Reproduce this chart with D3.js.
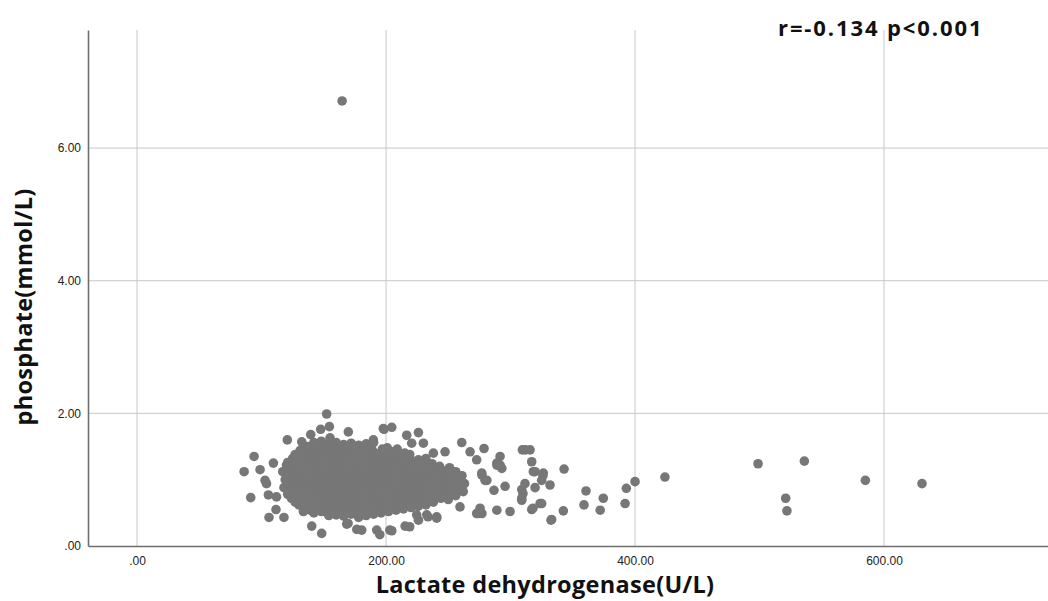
<!DOCTYPE html>
<html>
<head>
<meta charset="utf-8">
<script src="https://cdn.jsdelivr.net/npm/d3@7"></script>
<style>
  body { margin: 0; background: #fff; }
  svg { display: block; }
</style>
</head>
<body>
<svg id="chart" width="1048" height="601"></svg>
<script>
// Lactate dehydrogenase (U/L) vs phosphate (mmol/L)
const xTicks = [0, 200, 400, 600];
const yTicks = [0, 2, 4, 6];
const statText = 'r=-0.134 p<0.001';
const xTitle = 'Lactate dehydrogenase(U/L)';
const yTitle = 'phosphate(mmol/L)';

// dense core of the cloud
const corePoints = [
  [118,0.88],[119,1.0],[117,1.12],[120,1.22],
  [124,0.72],[123,0.84],[125,0.96],[124,1.08],[123,1.2],[125,1.32],
  [130,0.62],[131,0.74],[129,0.86],[130,0.98],[131,1.1],[129,1.22],[130,1.34],[131,1.44],
  [136,0.56],[135,0.68],[137,0.8],[136,0.92],[135,1.04],[137,1.16],[136,1.28],[135,1.4],[137,1.5],
  [142,0.5],[143,0.62],[141,0.74],[142,0.86],[143,0.98],[141,1.1],[142,1.22],[143,1.34],[141,1.46],[142,1.56],
  [148,0.52],[147,0.64],[149,0.76],[148,0.88],[147,1.0],[149,1.12],[148,1.24],[147,1.36],[149,1.48],[148,1.58],
  [154,0.46],[155,0.58],[153,0.7],[154,0.82],[155,0.94],[153,1.06],[154,1.18],[155,1.3],[153,1.42],[154,1.54],[155,1.63],
  [160,0.47],[159,0.6],[161,0.72],[160,0.84],[159,0.96],[161,1.08],[160,1.2],[159,1.32],[161,1.44],[160,1.56],
  [166,0.45],[167,0.57],[165,0.69],[166,0.81],[167,0.93],[165,1.05],[166,1.17],[167,1.29],[165,1.41],[166,1.53],
  [172,0.48],[171,0.6],[173,0.72],[172,0.84],[171,0.96],[173,1.08],[172,1.2],[171,1.32],[173,1.44],[172,1.55],
  [178,0.43],[179,0.55],[177,0.67],[178,0.79],[179,0.91],[177,1.03],[178,1.15],[179,1.27],[177,1.39],[178,1.52],
  [184,0.46],[183,0.58],[185,0.7],[184,0.82],[183,0.94],[185,1.06],[184,1.18],[183,1.3],[185,1.42],[184,1.54],
  [190,0.48],[191,0.6],[189,0.72],[190,0.84],[191,0.96],[189,1.08],[190,1.2],[191,1.32],[189,1.44],[190,1.56],
  [196,0.5],[195,0.62],[197,0.74],[196,0.86],[195,0.98],[197,1.1],[196,1.22],[195,1.34],[197,1.46],
  [202,0.52],[203,0.64],[201,0.76],[202,0.88],[203,1.0],[201,1.12],[202,1.24],[203,1.36],[201,1.48],
  [208,0.54],[207,0.66],[209,0.78],[208,0.9],[207,1.02],[209,1.14],[208,1.26],[207,1.38],[209,1.46],
  [214,0.56],[215,0.68],[213,0.8],[214,0.92],[215,1.04],[213,1.16],[214,1.28],[215,1.4],
  [220,0.58],[219,0.7],[221,0.82],[220,0.94],[219,1.06],[221,1.18],[220,1.3],[219,1.38],
  [226,0.6],[227,0.72],[225,0.84],[226,0.96],[227,1.08],[225,1.2],[226,1.3],
  [232,0.62],[231,0.74],[233,0.86],[232,0.98],[231,1.1],[233,1.22],[232,1.32],
  [238,0.66],[239,0.78],[237,0.9],[238,1.02],[239,1.14],[237,1.24],
  [244,0.72],[243,0.84],[245,0.96],[244,1.08],[243,1.2],
  [250,0.7],[251,0.82],[249,0.94],[250,1.06],[251,1.18],
  [256,0.76],[255,0.88],[257,1.0],[256,1.12],
  [262,0.82],[263,0.94],[261,1.06]
];

// more core points sitting between the ones above
const coreFill = [
  [121,0.78],[121,0.9],[121,1.02],[121,1.14],[121,1.26],
  [127,0.66],[127,0.78],[127,0.9],[127,1.02],[127,1.14],[127,1.26],[127,1.38],
  [133,0.6],[133,0.72],[133,0.84],[133,0.96],[133,1.08],[133,1.2],[133,1.32],[133,1.44],
  [139,0.54],[139,0.66],[139,0.78],[139,0.9],[139,1.02],[139,1.14],[139,1.26],[139,1.38],[139,1.5],
  [145,0.56],[145,0.68],[145,0.8],[145,0.92],[145,1.04],[145,1.16],[145,1.28],[145,1.4],[145,1.52],
  [151,0.52],[151,0.64],[151,0.76],[151,0.88],[151,1.0],[151,1.12],[151,1.24],[151,1.36],[151,1.48],
  [157,0.52],[157,0.64],[157,0.76],[157,0.88],[157,1.0],[157,1.12],[157,1.24],[157,1.36],[157,1.5],
  [163,0.5],[163,0.62],[163,0.74],[163,0.86],[163,0.98],[163,1.1],[163,1.22],[163,1.34],[163,1.46],
  [169,0.52],[169,0.64],[169,0.76],[169,0.88],[169,1.0],[169,1.12],[169,1.24],[169,1.36],[169,1.48],
  [175,0.5],[175,0.62],[175,0.74],[175,0.86],[175,0.98],[175,1.1],[175,1.22],[175,1.34],[175,1.46],
  [181,0.5],[181,0.62],[181,0.74],[181,0.86],[181,0.98],[181,1.1],[181,1.22],[181,1.34],[181,1.46],
  [187,0.54],[187,0.66],[187,0.78],[187,0.9],[187,1.02],[187,1.14],[187,1.26],[187,1.38],[187,1.5],
  [193,0.55],[193,0.67],[193,0.79],[193,0.91],[193,1.03],[193,1.15],[193,1.27],[193,1.39],
  [199,0.57],[199,0.69],[199,0.81],[199,0.93],[199,1.05],[199,1.17],[199,1.29],[199,1.41],
  [205,0.59],[205,0.71],[205,0.83],[205,0.95],[205,1.07],[205,1.19],[205,1.31],[205,1.42],
  [211,0.61],[211,0.73],[211,0.85],[211,0.97],[211,1.09],[211,1.21],[211,1.33],
  [217,0.63],[217,0.75],[217,0.87],[217,0.99],[217,1.11],[217,1.23],[217,1.34],
  [223,0.66],[223,0.78],[223,0.9],[223,1.02],[223,1.14],[223,1.25],
  [229,0.68],[229,0.8],[229,0.92],[229,1.04],[229,1.16],[229,1.27],
  [235,0.7],[235,0.82],[235,0.94],[235,1.06],[235,1.18],
  [241,0.78],[241,0.9],[241,1.02],[241,1.14],
  [247,0.77],[247,0.89],[247,1.01],[247,1.13],
  [253,0.82],[253,0.94],[253,1.06],
  [259,0.88],[259,1.0]
];

// edge and scattered points
const edgePoints = [
  [164.7,6.71],
  [152.3,1.99],[154.5,1.80],[147.5,1.76],[169.7,1.72],[139.5,1.68],[132.3,1.57],[120.7,1.60],
  [94,1.35],[86,1.12],[98.8,1.15],[102.8,0.99],[104,0.94],[109.5,1.25],[91.3,0.73],[105.5,0.77],
  [112,0.74],[111.6,0.55],[106,0.43],[118,0.43],[133.6,0.52],[140.3,0.30],[148.3,0.19],[168.4,0.33],
  [176.5,0.25],[169.5,0.34],[180.5,0.24],[192.5,0.24],[195,0.17],[203,0.24],[204.6,0.23],[215.3,0.30],
  [219,0.29],[226,0.39],[189.5,0.62],[233.7,0.44],[240.7,0.44],[232.7,0.47],[224.6,0.47],[240.7,0.42],
  [189.8,1.60],[198.4,1.76],[204.6,1.79],[197.8,1.77],[216.6,1.67],[226,1.71],[220.6,1.55],[230,1.55],
  [238,1.40],[247.4,1.42],[260.8,1.56],[267.5,1.42],[278.7,1.47],[272.8,1.30],[289,1.22],[281,0.99],
  [259.4,0.59],[274,0.49],[289,0.54],[277,0.49],[275.5,0.57],[272.8,0.49],[279.5,0.99],[277,1.07],
  [276.9,1.10],[291.6,1.35],[289,1.25],[293,1.17],[291.6,1.22],[286.7,0.84],[295.6,0.90],[299.6,0.52],
  [309.5,1.45],[312,1.45],[315.7,1.45],[317,1.27],[318.3,1.12],[319.7,1.12],[326.3,1.10],[325,0.99],
  [326,1.06],[331.7,0.92],[319.7,0.88],[311.6,0.94],[309,0.85],[310,0.79],[309,0.69],[309,0.72],
  [317,0.55],[318,0.57],[323.7,0.64],[325,0.64],[333,0.40],[332.5,0.39],[342.4,0.53],[343,1.16],
  [360.6,0.83],[359,0.62],[372,0.54],[374.5,0.72],[392,0.64],[393,0.87],[400,0.97],[424,1.04],
  [498.8,1.24],[536,1.28],[521,0.72],[522,0.53],[585,0.99],[630.5,0.94]
];

const allPoints = corePoints.concat(coreFill, edgePoints);

const svg = d3.select('#chart');
const plot = { left: 88, right: 1048, top: 30, bottom: 546 };

const x = d3.scaleLinear().domain([-39.4, 731.7]).range([plot.left, plot.right]);
const y = d3.scaleLinear().domain([0, 7.78]).range([plot.bottom, plot.top]);

// grid
svg.append('g')
  .selectAll('line')
  .data(xTicks)
  .join('line')
  .attr('x1', d => x(d)).attr('x2', d => x(d))
  .attr('y1', plot.top).attr('y2', plot.bottom)
  .attr('stroke', '#c8c8c8').attr('stroke-width', 1);

svg.append('g')
  .selectAll('line')
  .data(yTicks.filter(d => d > 0))
  .join('line')
  .attr('x1', plot.left).attr('x2', plot.right)
  .attr('y1', d => y(d)).attr('y2', d => y(d))
  .attr('stroke', '#c8c8c8').attr('stroke-width', 1);

// axes
const fmt = d => d === 0 ? '.00' : d3.format('.2f')(d);

const xAxis = svg.append('g')
  .attr('transform', `translate(0,${plot.bottom})`)
  .call(d3.axisBottom(x).tickValues(xTicks).tickFormat(fmt).tickSize(0).tickPadding(10));
const yAxis = svg.append('g')
  .attr('transform', `translate(${plot.left},0)`)
  .call(d3.axisLeft(y).tickValues(yTicks).tickFormat(fmt).tickSize(0).tickPadding(7));

[xAxis, yAxis].forEach(g => {
  g.select('.domain').attr('stroke', '#6e6e6e').attr('stroke-width', 1.6);
  g.selectAll('text')
    .attr('font-family', '"Liberation Sans", Arial, sans-serif')
    .attr('font-size', 12)
    .attr('fill', '#222');
});

// points
svg.append('g')
  .selectAll('circle')
  .data(allPoints)
  .join('circle')
  .attr('cx', d => x(d[0]))
  .attr('cy', d => y(d[1]))
  .attr('r', 4.8)
  .attr('fill', '#777777');

// titles
svg.append('text')
  .attr('x', 545).attr('y', 593)
  .attr('text-anchor', 'middle')
  .attr('font-family', '"Open Sans", "Noto Sans", sans-serif')
  .attr('font-weight', 'bold')
  .attr('font-size', 23.5)
  .attr('letter-spacing', 0.3)
  .attr('fill', '#111')
  .text(xTitle);

svg.append('text')
  .attr('transform', 'translate(32,307) rotate(-90)')
  .attr('text-anchor', 'middle')
  .attr('font-family', '"Open Sans", "Noto Sans", sans-serif')
  .attr('font-weight', 'bold')
  .attr('font-size', 23.5)
  .attr('letter-spacing', 0.3)
  .attr('fill', '#111')
  .text(yTitle);

svg.append('text')
  .attr('x', 778).attr('y', 36)
  .attr('font-family', '"Open Sans", "Noto Sans", sans-serif')
  .attr('font-weight', 'bold')
  .attr('font-size', 22)
  .attr('letter-spacing', 1.9)
  .attr('fill', '#111')
  .text(statText);
</script>
</body>
</html>
